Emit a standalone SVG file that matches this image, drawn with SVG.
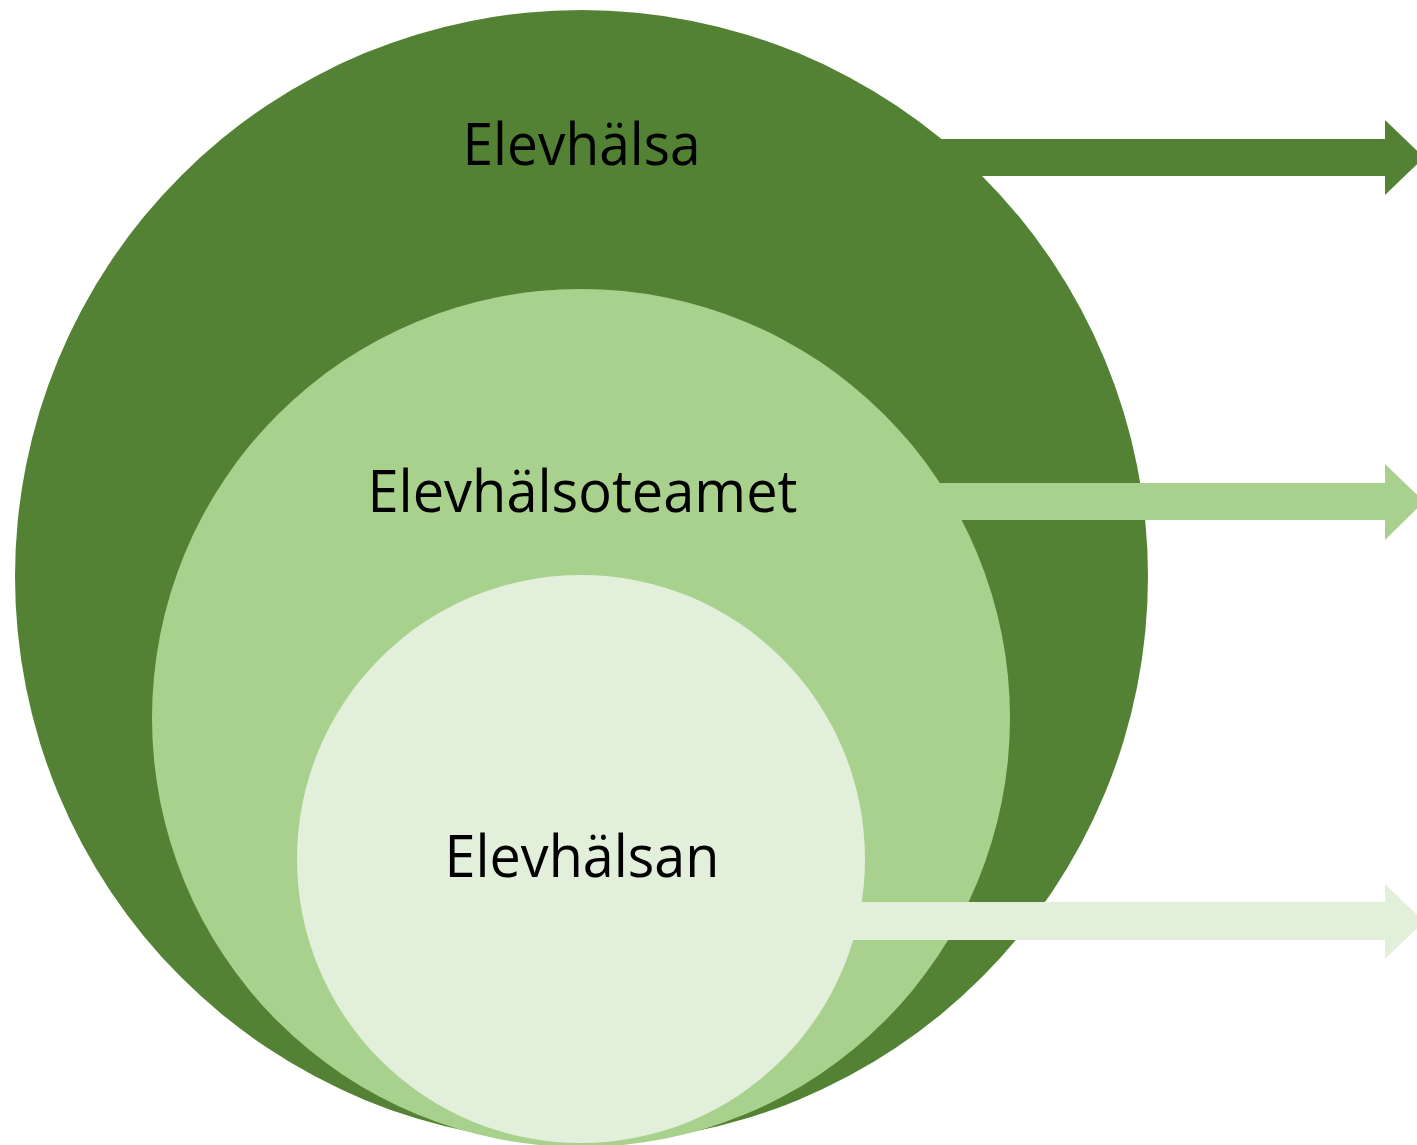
<svg xmlns="http://www.w3.org/2000/svg" width="1417" height="1145" viewBox="0 0 1417 1145">
<style>
.lbl{font-family:"Open Sans","Noto Sans",sans-serif;font-size:58px;fill:#000;text-anchor:middle}
.dark{fill:#548235}
.mid{fill:#A9D18E}
.light{fill:#E2EFDA}
</style>
<rect width="1417" height="1145" fill="#fff"/>
<g id="node-elevhalsa">
<circle class="dark" cx="581.5" cy="576.5" r="566.5"/>
</g>
<g id="connectors">
<polygon id="arrow-1" class="dark" points="900,139 1385,139 1385,120 1424,157.5 1385,195 1385,176 900,176"/>
<polygon id="arrow-2" class="mid" points="900,483 1385,483 1385,464 1424,501.5 1385,540 1385,520 900,520"/>
</g>
<g id="node-elevhalsoteamet">
<circle class="mid" cx="581" cy="718" r="429"/>
</g>
<g id="connectors-2">
<polygon id="arrow-3" class="light" points="800,902 1385,902 1385,884 1424,921.5 1385,959 1385,940 800,940"/>
</g>
<g id="node-elevhalsan">
<circle class="light" cx="581" cy="859" r="284"/>
</g>
<text class="lbl" x="581.5" y="165" textLength="238" lengthAdjust="spacingAndGlyphs">Elevhälsa</text>
<text class="lbl" x="582.5" y="512" textLength="430" lengthAdjust="spacingAndGlyphs">Elevhälsoteamet</text>
<text class="lbl" x="582" y="877" textLength="275" lengthAdjust="spacingAndGlyphs">Elevhälsan</text>
</svg>
